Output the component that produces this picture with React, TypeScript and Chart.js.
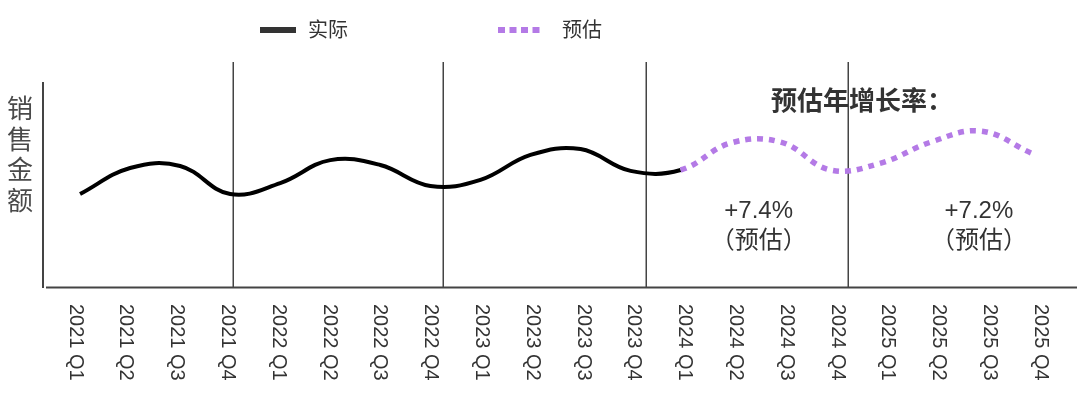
import { useEffect, useRef } from 'react';
import { Chart, registerables } from 'chart.js';

Chart.register(...registerables);

const quarters = [
  '2021 Q1', '2021 Q2', '2021 Q3', '2021 Q4',
  '2022 Q1', '2022 Q2', '2022 Q3', '2022 Q4',
  '2023 Q1', '2023 Q2', '2023 Q3', '2023 Q4',
  '2024 Q1', '2024 Q2', '2024 Q3', '2024 Q4',
  '2025 Q1', '2025 Q2', '2025 Q3', '2025 Q4',
];

// actual sales, 2021 Q1 .. 2024 Q1
const actualSales = [41.3, 52.9, 53.8, 41.3, 46.2, 56.4, 54.2, 44.9, 47.6, 58.7, 61.3, 51.6, 52.0];
// forecast sales, 2024 Q1 .. 2025 Q4 (first value joins the actual line)
const forecastSales = [52.0, 64.0, 64.4, 52.0, 55.1, 64.4, 69.3, 59.6];

// year dividers (in quarter-index units)
const yearDividers = [3.06, 7.25, 11.31, 15.34];
const growthRates = ['+7.4%', '+7.2%'];
const growthCenters = [13.56, 17.96];

const legendLabels = ['实际', '预估'];
const yTitle = ['销', '售', '金', '额'];
const growthTitle = '预估年增长率：';

const BLACK = '#000000';
const PURPLE = 'rgb(180,122,230)';
const AXIS = '#444444';
const TEXT = '#333333';
const FONT = "'Liberation Sans', 'Noto Sans CJK SC', sans-serif";

export default function App() {
  const ref = useRef<HTMLCanvasElement | null>(null);

  useEffect(() => {
    if (!ref.current) return;
    const splitIdx = actualSales.length - 1;
    const series = quarters.map((_, i) => ({
      x: i,
      y: i < actualSales.length ? actualSales[i] : forecastSales[i - splitIdx],
    }));

    const decor = {
      id: 'decor',
      beforeDatasetsDraw(chart: any) {
        const { ctx, chartArea, scales } = chart;
        const xs = scales.x;
        ctx.save();
        // dividers
        ctx.strokeStyle = AXIS;
        ctx.lineWidth = 1.5;
        yearDividers.forEach((d) => {
          const px = Math.round(xs.getPixelForValue(d)) + 0.25;
          ctx.beginPath();
          ctx.moveTo(px, chartArea.top);
          ctx.lineTo(px, chartArea.bottom);
          ctx.stroke();
        });
        // y axis line
        ctx.lineWidth = 2;
        ctx.beginPath();
        ctx.moveTo(43, 82);
        ctx.lineTo(43, chartArea.bottom + 1);
        ctx.stroke();
        // x axis line
        ctx.beginPath();
        ctx.moveTo(46, chartArea.bottom + 0.5);
        ctx.lineTo(chartArea.right, chartArea.bottom + 0.5);
        ctx.stroke();

        // x tick labels rotated clockwise
        ctx.fillStyle = TEXT;
        ctx.font = `20px ${FONT}`;
        ctx.textAlign = 'left';
        ctx.textBaseline = 'middle';
        quarters.forEach((q, i) => {
          const px = xs.getPixelForValue(-0.1 + i * 1.015);
          ctx.save();
          ctx.translate(px, chartArea.bottom + 17);
          ctx.rotate(Math.PI / 2);
          ctx.fillText(q, 0, 0);
          ctx.restore();
        });

        // y title
        ctx.fillStyle = '#4a4a4a';
        ctx.font = `26px ${FONT}`;
        ctx.textAlign = 'center';
        yTitle.forEach((c, i) => {
          ctx.fillText(c, 20, 111 + i * 30.5);
        });

        // growth annotations
        ctx.fillStyle = TEXT;
        ctx.font = `bold 26px ${FONT}`;
        ctx.textAlign = 'left';
        ctx.fillText(growthTitle, 771, 103);
        ctx.font = `24px ${FONT}`;
        ctx.textAlign = 'center';
        growthRates.forEach((g, i) => {
          const px = xs.getPixelForValue(growthCenters[i]);
          ctx.fillText(g, px, 211);
          ctx.fillText('（预估）', px, 241);
        });

        // legend
        ctx.fillStyle = TEXT;
        ctx.fillRect(260, 27, 36, 6);
        ctx.fillStyle = PURPLE;
        for (let k = 0; k < 4; k++) ctx.fillRect(498 + k * 11.5, 27, 7, 6);
        ctx.fillStyle = TEXT;
        ctx.font = `20px ${FONT}`;
        ctx.textAlign = 'left';
        ctx.fillText(legendLabels[0], 308, 31);
        ctx.fillText(legendLabels[1], 562, 31);
        ctx.restore();
      },
    };

    const chart = new Chart(ref.current, {
      type: 'line',
      data: {
        datasets: [
          {
            label: legendLabels.join('/'),
            data: series,
            borderColor: BLACK,
            borderWidth: 4,
            tension: 0.4,
            pointRadius: 0,
            borderCapStyle: 'butt',
            segment: {
              borderColor: (c: any) => (c.p0DataIndex >= splitIdx ? PURPLE : BLACK),
              borderDash: (c: any) => (c.p0DataIndex >= splitIdx ? [6, 6] : []),
              borderWidth: (c: any) => (c.p0DataIndex >= splitIdx ? 5.5 : 4),
            },
          } as any,
        ],
      },
      options: {
        animation: false,
        responsive: false,
        layout: { padding: { left: 44, right: 3, top: 62, bottom: 112 } },
        plugins: { legend: { display: false }, tooltip: { enabled: false } },
        scales: {
          x: { type: 'linear', min: -0.72, max: 19.92, display: false },
          y: { min: 0, max: 100, display: false },
        },
      },
      plugins: [decor],
    });
    return () => chart.destroy();
  }, []);

  return (
    <div style={{ position: 'absolute', left: 0, top: 0, width: 1080, height: 399 }}>
      <canvas ref={ref} width={1080} height={399} />
    </div>
  );
}
